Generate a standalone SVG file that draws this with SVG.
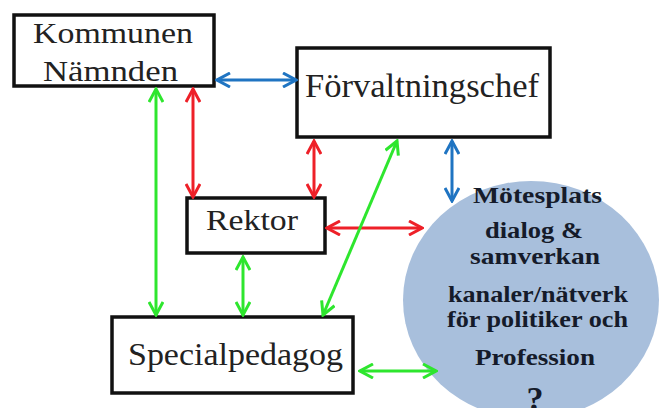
<svg xmlns="http://www.w3.org/2000/svg" width="660" height="408" viewBox="0 0 660 408">
<style>
.box{fill:#fff;stroke:#111;stroke-width:3.5}
.lbl{font-family:'Liberation Serif','Times New Roman',serif;fill:#222}
.cl{font-family:'Liberation Serif','Times New Roman',serif;font-weight:bold;fill:#151b2a;font-size:24px}
.b{stroke:#1f74c2;stroke-width:3;fill:none}
.r{stroke:#ee2028;stroke-width:3;fill:none}
.g{stroke:#2ee62e;stroke-width:3;fill:none}
</style>
<defs>
<marker id="mb" viewBox="0 0 16 16" markerWidth="16" markerHeight="16" refX="14" refY="8" orient="auto-start-reverse" markerUnits="userSpaceOnUse"><path d="M1,1 L14,8 L1,15" fill="none" stroke="#1f74c2" stroke-width="3"/></marker>
<marker id="mr" viewBox="0 0 16 16" markerWidth="16" markerHeight="16" refX="14" refY="8" orient="auto-start-reverse" markerUnits="userSpaceOnUse"><path d="M1,1 L14,8 L1,15" fill="none" stroke="#ee2028" stroke-width="3"/></marker>
<marker id="mg" viewBox="0 0 16 16" markerWidth="16" markerHeight="16" refX="14" refY="8" orient="auto-start-reverse" markerUnits="userSpaceOnUse"><path d="M1,1 L14,8 L1,15" fill="none" stroke="#2ee62e" stroke-width="3"/></marker>
</defs>
<rect width="660" height="408" fill="#fff"/>
<g id="motesplats">
<ellipse cx="531" cy="300" rx="128" ry="119" fill="#a8bfdc"/>
<text class="cl" x="473" y="203" textLength="129" lengthAdjust="spacingAndGlyphs">Mötesplats</text>
<text class="cl" x="485" y="238" textLength="98" lengthAdjust="spacingAndGlyphs">dialog &amp;</text>
<text class="cl" x="470" y="264" textLength="130" lengthAdjust="spacingAndGlyphs">samverkan</text>
<text class="cl" x="448" y="302" textLength="180" lengthAdjust="spacingAndGlyphs">kanaler/nätverk</text>
<text class="cl" x="447" y="327" textLength="181" lengthAdjust="spacingAndGlyphs">för politiker och</text>
<text class="cl" x="475" y="365" textLength="120" lengthAdjust="spacingAndGlyphs">Profession</text>
<text class="cl" x="535" y="410" text-anchor="middle" style="font-size:34px">?</text>
</g>
<g id="kommunen">
<rect class="box" x="14" y="15" width="200" height="71"/>
<text class="lbl" x="33" y="43" font-size="29" textLength="160" lengthAdjust="spacingAndGlyphs">Kommunen</text>
<text class="lbl" x="43" y="81" font-size="29" textLength="135" lengthAdjust="spacingAndGlyphs">Nämnden</text>
</g>
<g id="forvaltningschef">
<rect class="box" x="297" y="48" width="253" height="89"/>
<text class="lbl" x="305" y="97" font-size="33" textLength="234" lengthAdjust="spacingAndGlyphs">Förvaltningschef</text>
</g>
<g id="rektor">
<rect class="box" x="187" y="198" width="138" height="55"/>
<text class="lbl" x="206" y="230" font-size="29" textLength="92" lengthAdjust="spacingAndGlyphs">Rektor</text>
</g>
<g id="specialpedagog">
<rect class="box" x="112" y="317" width="241" height="76"/>
<text class="lbl" x="128" y="365" font-size="31" textLength="215" lengthAdjust="spacingAndGlyphs">Specialpedagog</text>
</g>
<g id="connectors">
<line class="b" x1="217" y1="80" x2="296" y2="80" marker-start="url(#mb)" marker-end="url(#mb)"/>
<line class="b" x1="452" y1="141" x2="452" y2="201" marker-start="url(#mb)" marker-end="url(#mb)"/>
<line class="r" x1="193" y1="89" x2="193" y2="197" marker-start="url(#mr)" marker-end="url(#mr)"/>
<line class="r" x1="314" y1="141" x2="314" y2="197" marker-start="url(#mr)" marker-end="url(#mr)"/>
<line class="r" x1="327" y1="228" x2="422" y2="228" marker-start="url(#mr)" marker-end="url(#mr)"/>
<line class="g" x1="156" y1="89" x2="156" y2="315" marker-start="url(#mg)" marker-end="url(#mg)"/>
<line class="g" x1="397" y1="141" x2="323" y2="315" marker-start="url(#mg)" marker-end="url(#mg)"/>
<line class="g" x1="243" y1="257" x2="243" y2="315" marker-start="url(#mg)" marker-end="url(#mg)"/>
<line class="g" x1="360" y1="371" x2="436" y2="371" marker-start="url(#mg)" marker-end="url(#mg)"/>
</g>
</svg>
